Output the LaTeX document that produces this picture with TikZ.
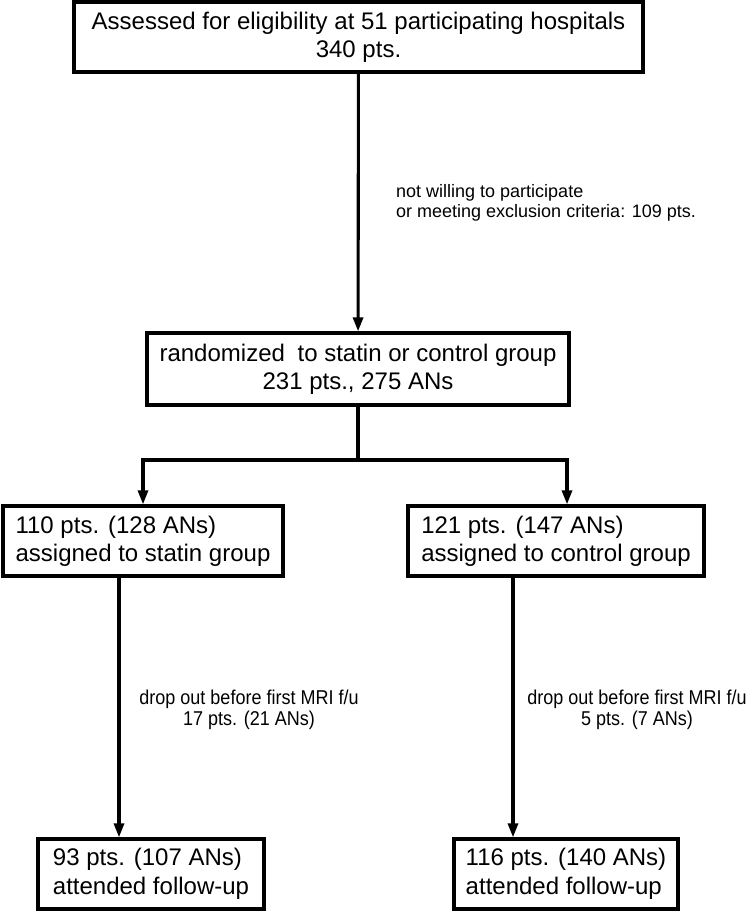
\documentclass[tikz,border=0pt]{standalone}
\usepackage{fontspec}
\setmainfont{Liberation Sans}
\usetikzlibrary{arrows.meta}
\newcommand{\narrowtext}[1]{\scalebox{0.9}[1]{#1}}
\begin{document}
\begin{tikzpicture}[x=1pt,y=1pt,
  box/.style={draw, line width=3.3pt, inner sep=0pt, minimum height=70pt,
              font=\fontsize{24}{28}\selectfont},
  cbox/.style={box, align=center},
  lbox/.style={box, align=left},
  conn/.style={line width=3.1pt},
  arr/.style={conn, -{Triangle[length=14pt,width=10pt]}},
  lab/.style={font=\fontsize{18}{20}\selectfont, inner sep=0pt},
  droplab/.style={font=\fontsize{20}{21}\selectfont, inner sep=0pt, align=center}]
\useasboundingbox (0,0) rectangle (747,-912);

\node[cbox, minimum width=569pt] (top) at (358.5,-37)
  {Assessed for eligibility at 51 participating hospitals\\340 pts.};
\node[cbox, minimum width=422pt, minimum height=72pt] (rand) at (358,-369)
  {randomized\hspace{6pt} to statin or control group\\231 pts., 275 ANs};
\node[lbox, minimum width=280pt] (statin) at (143,-541)
  {110 pts. (128 ANs)\\assigned to statin group};
\node[lbox, minimum width=296pt] (control) at (556,-541)
  {121 pts. (147 ANs)\\assigned to control group};
\node[lbox, minimum width=226pt, font=\fontsize{24}{29}\selectfont] (fs) at (151,-874)
  {93 pts. (107 ANs)\\attended follow-up};
\node[lbox, minimum width=224pt, font=\fontsize{24}{29}\selectfont] (fc) at (566,-874)
  {116 pts. (140 ANs)\\attended follow-up};

\node[lab, align=left, anchor=west] (excl) at (396,-203)
  {not willing to participate\\or meeting exclusion criteria: 109 pts.};
\node[droplab] (dropS) at (249,-710)
  {\narrowtext{drop out before first MRI f/u}\\\narrowtext{17 pts. (21 ANs)}};
\node[droplab] (dropC) at (637,-710)
  {\narrowtext{drop out before first MRI f/u}\\\narrowtext{5 pts. (7 ANs)}};

\coordinate (split) at (358,-460);
\coordinate (splitL) at (143,-460);
\coordinate (splitR) at (567,-460);
\coordinate (dl) at (119,0);
\coordinate (dr) at (513,0);

\draw[arr] (top) -- (rand);
\draw[conn] (rand.south) -- (split);
\draw[arr] (split) -- (splitL) -- (splitL |- statin.north);
\draw[arr] (split) -- (splitR) -- (splitR |- control.north);
\draw[arr] (statin.south -| dl) -- (fs.north -| dl);
\draw[arr] (control.south -| dr) -- (fc.north -| dr);
\end{tikzpicture}
\end{document}
